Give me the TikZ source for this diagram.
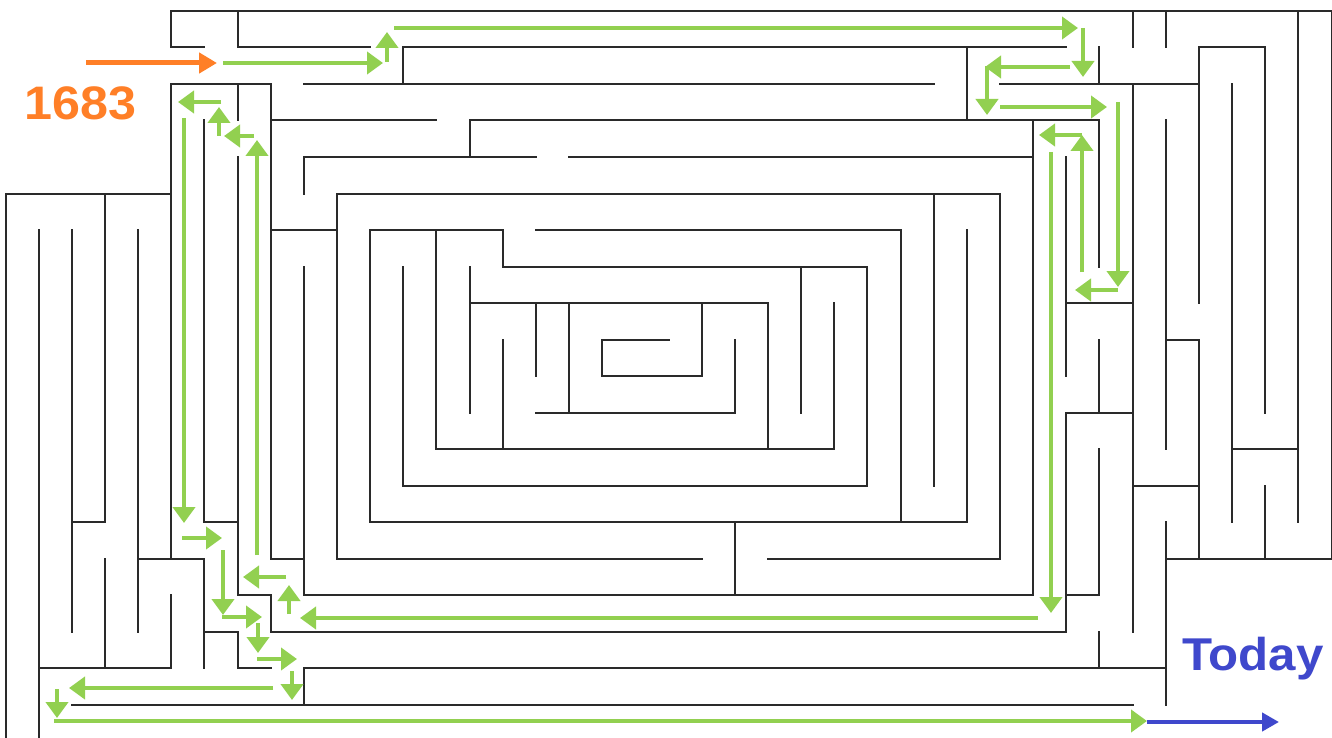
\documentclass[tikz,border=0pt]{standalone}
\usepackage{fontspec}
\setmainfont{Liberation Sans}
\newfontfamily\lblfont{Liberation Sans}[FakeStretch=1.07]
\usetikzlibrary{arrows.meta}
\definecolor{pathgreen}{HTML}{92D050}
\definecolor{startorange}{HTML}{FF7F27}
\definecolor{endblue}{HTML}{3F48CC}
\definecolor{wallgray}{HTML}{2A2A2A}
\tikzset{
  wall/.style={draw=wallgray, line width=2pt, line cap=rect},
  garrow/.style={draw=pathgreen, line width=4.5pt, -{Triangle[length=16pt,width=22pt]}},
  oarrow/.style={draw=startorange, line width=5pt, -{Triangle[length=18pt,width=20pt]}},
  barrow/.style={draw=endblue, line width=4.5pt, -{Triangle[length=17pt,width=18pt]}},
  lbl/.style={anchor=base west, inner sep=0pt, font=\lblfont\bfseries\fontsize{47}{47}\selectfont}
}
\begin{document}
\begin{tikzpicture}[x=1pt, y=-1pt]
\useasboundingbox (0,0) rectangle (1332,738);
\clip (0,0) rectangle (1332,738);
\fill[white] (0,0) rectangle (1332,738);
% ---------------- maze walls (grid units) ----------------
\begin{scope}[shift={(5.5pt,-11pt)}, x=33.15pt, y=-36.5pt]
\foreach \i/\a/\b in {0/5/20, 1/6/20, 2/6/17, 3/5/14, 3/15/18, 4/6/17,
  5/0/1, 5/2/15, 5/16/18, 6/3/14, 6/15/18, 7/0/1, 7/2/3, 7/4/16, 7/17/18,
  8/2/15, 8/16/17, 9/4/5, 9/7/16, 9/18/19, 10/5/15, 11/6/14, 12/1/2, 12/7/13,
  13/6/12, 14/3/4, 14/7/11, 15/6/7, 15/9/12, 16/8/10, 17/8/11, 18/9/10,
  21/8/10, 22/9/11, 22/14/16, 23/8/12, 24/7/11, 25/8/12, 26/7/13, 27/6/14,
  28/5/13, 29/1/3, 29/6/14, 30/5/15, 31/3/16, 32/4/10, 32/11/17,
  33/1/2, 33/3/7, 33/9/11, 33/12/16, 33/17/18, 34/0/1, 34/2/17,
  35/0/1, 35/3/12, 35/14/19, 36/1/8, 36/9/15, 37/2/14, 38/1/11, 38/13/15,
  39/0/14, 40/0/15}
  \draw[wall] (\i,\a) -- (\i,\b);
\foreach \j/\a/\b in {0/5/40, 1/5/6, 1/7/11, 1/12/32, 1/36/38,
  2/5/8, 2/9/28, 2/30/36, 3/8/13, 3/14/33, 4/9/16, 4/17/31,
  5/0/5, 5/10/30, 6/8/10, 6/11/15, 6/16/27, 7/15/26, 8/14/23, 8/32/34,
  9/18/20, 9/35/36, 10/18/21, 11/16/22, 11/32/34, 12/13/25, 12/37/39,
  13/12/26, 13/34/36, 14/2/3, 14/6/7, 14/11/29,
  15/4/6, 15/8/9, 15/10/21, 15/23/30, 15/35/40,
  16/7/8, 16/9/31, 16/32/33, 17/6/7, 17/8/32,
  18/1/5, 18/7/8, 18/9/35, 19/2/34}
  \draw[wall] (\a,\j) -- (\b,\j);
\end{scope}
% ---------------- solution path ----------------
\draw[oarrow] (86,63) -- (217,63);
\draw[garrow] (223,63) -- (383,63);
\draw[garrow] (387,62) -- (387,32);
\draw[garrow] (394,28) -- (1078,28);
\draw[garrow] (1083,28) -- (1083,77);
\draw[garrow] (1070,67) -- (985,67);
\draw[garrow] (987,66) -- (987,115);
\draw[garrow] (1000,107) -- (1107,107);
\draw[garrow] (1118,102) -- (1118,287);
\draw[garrow] (1118,290) -- (1075,290);
\draw[garrow] (1082,272) -- (1082,135);
\draw[garrow] (1082,135) -- (1039,135);
\draw[garrow] (1051,152) -- (1051,613);
\draw[garrow] (1038,618) -- (300,618);
\draw[garrow] (289,614) -- (289,585);
\draw[garrow] (286,577) -- (243,577);
\draw[garrow] (257,555) -- (257,140);
\draw[garrow] (254,136) -- (224,136);
\draw[garrow] (219,136) -- (219,107);
\draw[garrow] (221,102) -- (178,102);
\draw[garrow] (184,118) -- (184,523);
\draw[garrow] (182,538) -- (222,538);
\draw[garrow] (223,550) -- (223,615);
\draw[garrow] (222,617) -- (262,617);
\draw[garrow] (258,623) -- (258,653);
\draw[garrow] (257,659) -- (297,659);
\draw[garrow] (292,671) -- (292,700);
\draw[garrow] (273,688) -- (69,688);
\draw[garrow] (57,689) -- (57,718);
\draw[garrow] (54,721) -- (1147,721);
\draw[barrow] (1147,722) -- (1279,722);
% ---------------- labels ----------------
\node[lbl, text=startorange] (yearstart) at (24,120) {1683};
\node[lbl, text=endblue, font=\lblfont\bfseries\fontsize{46}{46}\selectfont] (yearend) at (1182,670) {Today};
\end{tikzpicture}
\end{document}
